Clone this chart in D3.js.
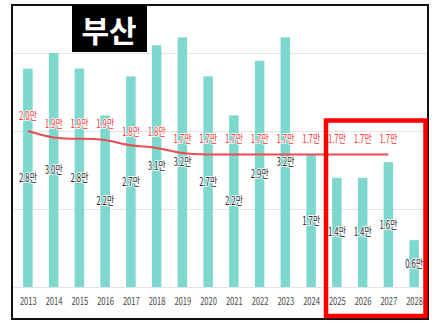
<!DOCTYPE html>
<html>
<head>
<meta charset="utf-8">
<script src="https://cdn.jsdelivr.net/npm/d3@7"></script>
<style>
  html, body { margin: 0; padding: 0; background: #fff; }
  svg { display: block; }
  .num { font-family: 'Noto Sans CJK KR', 'Noto Sans', sans-serif; }
</style>
</head>
<body>
<svg id="chart" width="433" height="327"></svg>
<script>
// Busan: yearly new housing supply (bars) and the 1-year average line, in 만 units
const years = ["2013","2014","2015","2016","2017","2018","2019","2020","2021","2022","2023","2024","2025","2026","2027","2028"];
const supply = [2.8, 3.0, 2.8, 2.2, 2.7, 3.1, 3.2, 2.7, 2.2, 2.9, 3.2, 1.7, 1.4, 1.4, 1.6, 0.6];
const lineYears = ["2013","2014","2015","2016","2017","2018","2019","2020","2021","2022","2023","2024","2025","2026","2027"];
const demand = [2.0, 1.9, 1.9, 1.9, 1.8, 1.8, 1.7, 1.7, 1.7, 1.7, 1.7, 1.7, 1.7, 1.7, 1.7];
const gridTicks = [1, 2, 3];
const highlightYears = ["2025", "2028"];
const title = "부산";
const unit = "만";

const svg = d3.select("#chart");

const x = d3.scalePoint().domain(years).range([15, 427]).padding(0.5);
const y = d3.scaleLinear().domain([0, 3]).range([287, 53]);
const barW = x.step() * 0.37;

// frame
svg.append("rect")
  .attr("x", 12).attr("y", 5).attr("width", 416).attr("height", 314)
  .attr("fill", "#fff").attr("stroke", "#111").attr("stroke-width", 2);

// gridlines
svg.append("g").selectAll("line").data(gridTicks).join("line")
  .attr("x1", 13).attr("x2", 427)
  .attr("y1", d => Math.round(y(d)) + 0.5).attr("y2", d => Math.round(y(d)) + 0.5)
  .attr("stroke", "#e4e4e4").attr("stroke-width", 1);

// bars
svg.append("g").selectAll("rect").data(years).join("rect")
  .attr("x", (d) => x(d) - barW / 2)
  .attr("width", barW)
  .attr("y", (d, i) => y(supply[i]))
  .attr("height", (d, i) => y(0) - y(supply[i]))
  .attr("fill", "#7ed8cd");

// baseline + year axis (condensed labels)
const xAxis = svg.append("g")
  .attr("transform", `translate(0,${y(0)})`)
  .call(d3.axisBottom(x).tickSize(0).tickPadding(11));
xAxis.select(".domain").attr("stroke", "#dfe3ea").attr("d", "M13,0.5H427");
xAxis.selectAll("text")
  .attr("class", "num")
  .attr("font-size", 10.5)
  .attr("fill", "#4a4a4a")
  .attr("textLength", 17)
  .attr("lengthAdjust", "spacingAndGlyphs");

// bar value labels, in the middle of each bar
svg.append("g").selectAll("text").data(years).join("text")
  .attr("class", "num")
  .attr("x", d => x(d))
  .attr("y", (d, i) => (y(supply[i]) + y(0)) / 2 + 4)
  .attr("text-anchor", "middle")
  .attr("font-size", 11.5)
  .attr("textLength", 18)
  .attr("lengthAdjust", "spacingAndGlyphs")
  .attr("fill", "#262626")
  .attr("stroke", "#fff").attr("stroke-width", 2).attr("stroke-linejoin", "round")
  .attr("paint-order", "stroke")
  .text((d, i) => supply[i].toFixed(1) + unit);

// demand line
const line = d3.line()
  .x((d, i) => x(lineYears[i]))
  .y(d => y(d))
  .curve(d3.curveBasis);
svg.append("path")
  .datum(demand)
  .attr("d", line)
  .attr("fill", "none")
  .attr("stroke", "#ee4b50")
  .attr("stroke-width", 2);

// demand labels above the line
svg.append("g").selectAll("text").data(lineYears).join("text")
  .attr("class", "num")
  .attr("x", d => x(d))
  .attr("y", (d, i) => y(demand[i]) - 11)
  .attr("text-anchor", "middle")
  .attr("font-size", 11.5)
  .attr("textLength", 18)
  .attr("lengthAdjust", "spacingAndGlyphs")
  .attr("fill", "#ff3434")
  .attr("stroke", "#fff").attr("stroke-width", 2).attr("stroke-linejoin", "round")
  .attr("paint-order", "stroke")
  .text((d, i) => demand[i].toFixed(1) + unit);

// forecast highlight box
const hx0 = x(highlightYears[0]) - x.step() / 2 + 2;
const hx1 = x(highlightYears[1]) + x.step() / 2 - 1.5;
svg.append("rect")
  .attr("x", hx0).attr("y", 120.5)
  .attr("width", hx1 - hx0).attr("height", 195.5)
  .attr("fill", "none").attr("stroke", "#ff0000").attr("stroke-width", 4.5);

// title block
svg.append("rect")
  .attr("x", 72).attr("y", 5).attr("width", 75).attr("height", 47)
  .attr("fill", "#000");
svg.append("text")
  .attr("x", 109).attr("y", 42)
  .attr("text-anchor", "middle")
  .attr("font-family", "'Noto Sans CJK KR', sans-serif")
  .attr("font-weight", 700)
  .attr("font-size", 30)
  .attr("fill", "#fff")
  .text(title);
</script>
</body>
</html>
